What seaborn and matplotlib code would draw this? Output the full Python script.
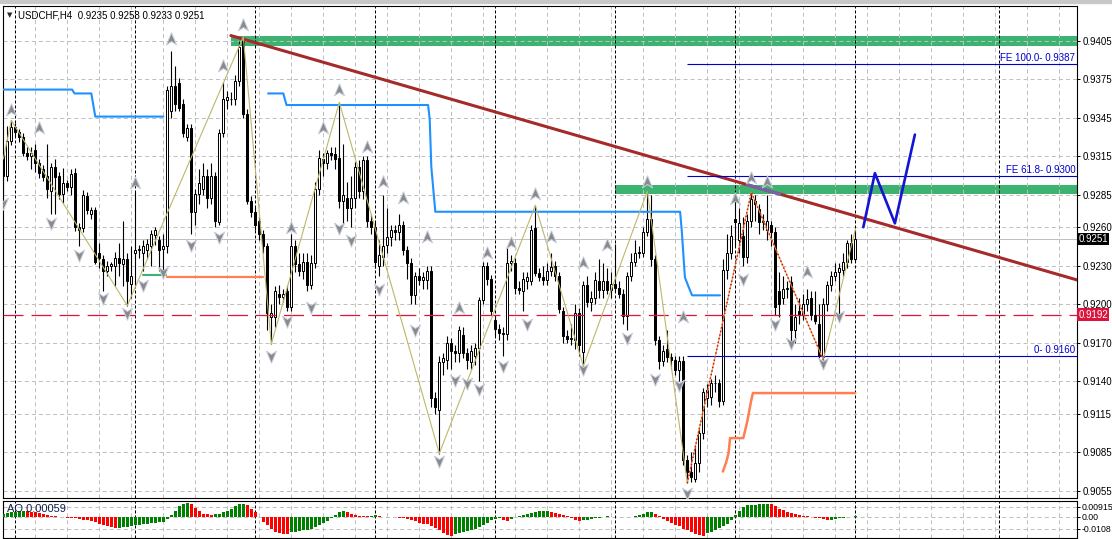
import matplotlib
matplotlib.use('Agg')
import numpy as np
import matplotlib.pyplot as plt
import seaborn as sns
from matplotlib.path import Path
from matplotlib.patches import Rectangle
from matplotlib.transforms import blended_transform_factory

sns.set_style('white')
plt.rcParams['font.family'] = ['Liberation Sans', 'DejaVu Sans']
plt.rcParams['lines.scale_dashes'] = False

# -------------------------
# data (USDCHF H4)
# -------------------------
opens = [
    .9318, .9300, .9327, .9338, .9334, .9330, .9318, .9315, .9320, .9310,
    .9305, .9300, .9288, .9307, .9300, .9286, .9294, .9291, .9302, .9260,
    .9259, .9284, .9270, .9273, .9240, .9235, .9226, .9230, .9230, .9236,
    .9231, .9235, .9216, .9240, .9242, .9240, .9242, .9245, .9254, .9250,
    .9243, .9245, .9350, .9370, .9372, .9356, .9330, .9337, .9272, .9286,
    .9290, .9300, .9283, .9300, .9264, .9333, .9359, .9360, .9360, .9374,
    .9405, .9348, .9280, .9272, .9265, .9255, .9245, .9190, .9190, .9208,
    .9206, .9210, .9198, .9245, .9231, .9226, .9233, .9215, .9232, .9290,
    .9313, .9310, .9318, .9317, .9314, .9280, .9283, .9275, .9283, .9307,
    .9288, .9312, .9265, .9260, .9230, .9237, .9246, .9252, .9258, .9256,
    .9262, .9242, .9232, .9207, .9222, .9219, .9219, .9226, .9127, .9118,
    .9155, .9157, .9170, .9164, .9162, .9176, .9162, .9155, .9160, .9166,
    .9203, .9230, .9220, .9188, .9181, .9178, .9177, .9232, .9232, .9213,
    .9210, .9218, .9218, .9259, .9224, .9221, .9219, .9226, .9230, .9222,
    .9195, .9175, .9173, .9172, .9193, .9163, .9215, .9202, .9205, .9218,
    .9211, .9218, .9211, .9216, .9213, .9208, .9191, .9222, .9233, .9240,
    .9240, .9256, .9266, .9235, .9172, .9156, .9165, .9159, .9157, .9149,
    .9156, .9079, .9070, .9064, .9077, .9100, .9127, .9128, .9139, .9139,
    .9125, .9227, .9240, .9266, .9250, .9253, .9237, .9265, .9280, .9274,
    .9264, .9258, .9262, .9256, .9210, .9205, .9212, .9217, .9180, .9195,
    .9192, .9200, .9205, .9192, .9185, .9159, .9200, .9215, .9222, .9225,
    .9227, .9233, .9248, .9235]
highs = [
    .9322, .9339, .9343, .9341, .9336, .9333, .9322, .9322, .9325, .9313,
    .9308, .9325, .9310, .9313, .9303, .9306, .9297, .9305, .9306, .9263,
    .9289, .9287, .9276, .9276, .9248, .9238, .9234, .9233, .9241, .9248,
    .9265, .9240, .9245, .9287, .9246, .9250, .9251, .9258, .9260, .9253,
    .9255, .9370, .9397, .9385, .9376, .9360, .9340, .9340, .9290, .9305,
    .9310, .9305, .9310, .9303, .9336, .9373, .9366, .9365, .9378, .9405,
    .9408, .9352, .9284, .9276, .9268, .9258, .9248, .9200, .9214, .9215,
    .9212, .9215, .9255, .9250, .9240, .9240, .9240, .9238, .9295, .9320,
    .9318, .9320, .9322, .9322, .9357, .9325, .9295, .9300, .9311, .9312,
    .9315, .9315, .9270, .9264, .9250, .9285, .9275, .9262, .9262, .9270,
    .9265, .9245, .9236, .9225, .9228, .9225, .9230, .9230, .9132, .9160,
    .9162, .9175, .9174, .9168, .9183, .9182, .9166, .9168, .9170, .9206,
    .9233, .9233, .9223, .9192, .9185, .9182, .9245, .9238, .9236, .9218,
    .9225, .9225, .9262, .9277, .9228, .9230, .9232, .9240, .9234, .9225,
    .9198, .9180, .9185, .9200, .9197, .9218, .9222, .9210, .9225, .9235,
    .9232, .9228, .9225, .9247, .9218, .9212, .9225, .9240, .9250, .9245,
    .9260, .9288, .9285, .9238, .9175, .9168, .9180, .9162, .9160, .9160,
    .9160, .9083, .9085, .9090, .9103, .9135, .9138, .9142, .9145, .9142,
    .9235, .9255, .9262, .9280, .9275, .9268, .9270, .9287, .9285, .9278,
    .9270, .9285, .9265, .9260, .9225, .9222, .9218, .9222, .9200, .9205,
    .9208, .9212, .9210, .9210, .9200, .9205, .9218, .9226, .9232, .9232,
    .9240, .9250, .9255, .9258]
lows = [
    .9283, .9296, .9324, .9330, .9326, .9315, .9312, .9305, .9303, .9298,
    .9296, .9283, .9270, .9270, .9282, .9279, .9288, .9285, .9257, .9245,
    .9256, .9270, .9266, .9231, .9228, .9210, .9222, .9226, .9214, .9222,
    .9214, .9199, .9205, .9215, .9236, .9226, .9235, .9230, .9246, .9226,
    .9226, .9240, .9345, .9350, .9350, .9330, .9327, .9255, .9262, .9278,
    .9285, .9275, .9278, .9260, .9262, .9330, .9352, .9355, .9355, .9370,
    .9345, .9278, .9268, .9258, .9250, .9240, .9180, .9169, .9182, .9200,
    .9202, .9195, .9195, .9225, .9222, .9220, .9210, .9212, .9228, .9285,
    .9300, .9305, .9312, .9305, .9275, .9262, .9265, .9260, .9275, .9283,
    .9282, .9260, .9255, .9228, .9222, .9230, .9240, .9245, .9250, .9250,
    .9238, .9220, .9200, .9200, .9215, .9212, .9212, .9120, .9115, .9084,
    .9145, .9150, .9150, .9155, .9155, .9158, .9150, .9150, .9153, .9140,
    .9200, .9215, .9192, .9175, .9172, .9160, .9172, .9226, .9208, .9208,
    .9195, .9212, .9215, .9222, .9218, .9215, .9215, .9222, .9218, .9193,
    .9170, .9170, .9168, .9165, .9160, .9152, .9198, .9195, .9200, .9205,
    .9205, .9208, .9205, .9210, .9205, .9185, .9180, .9218, .9230, .9236,
    .9237, .9253, .9230, .9168, .9150, .9152, .9155, .9150, .9145, .9140,
    .9075, .9061, .9062, .9062, .9070, .9095, .9120, .9122, .9132, .9120,
    .9122, .9220, .9235, .9245, .9240, .9230, .9232, .9260, .9265, .9255,
    .9258, .9250, .9245, .9192, .9190, .9200, .9205, .9170, .9170, .9185,
    .9188, .9195, .9188, .9185, .9158, .9157, .9195, .9210, .9218, .9190,
    .9222, .9228, .9232, .9233]
closes = [
    .9300, .9327, .9338, .9334, .9330, .9318, .9315, .9318, .9310, .9302,
    .9299, .9290, .9307, .9299, .9286, .9294, .9291, .9301, .9260, .9258,
    .9285, .9273, .9273, .9233, .9236, .9226, .9230, .9231, .9236, .9232,
    .9235, .9218, .9222, .9242, .9243, .9245, .9247, .9255, .9258, .9242,
    .9245, .9367, .9370, .9356, .9353, .9333, .9337, .9272, .9286, .9294,
    .9300, .9283, .9300, .9265, .9333, .9360, .9361, .9360, .9374, .9400,
    .9348, .9280, .9272, .9262, .9255, .9245, .9193, .9193, .9210, .9206,
    .9208, .9198, .9245, .9231, .9226, .9233, .9215, .9232, .9290, .9314,
    .9310, .9318, .9316, .9313, .9280, .9285, .9275, .9283, .9307, .9288,
    .9312, .9265, .9260, .9233, .9238, .9245, .9252, .9258, .9256, .9262,
    .9242, .9232, .9207, .9222, .9219, .9221, .9226, .9127, .9120, .9155,
    .9158, .9170, .9164, .9162, .9180, .9162, .9157, .9164, .9166, .9203,
    .9230, .9220, .9195, .9181, .9178, .9177, .9232, .9234, .9213, .9211,
    .9220, .9221, .9258, .9224, .9221, .9219, .9226, .9229, .9222, .9196,
    .9175, .9173, .9174, .9193, .9168, .9215, .9202, .9205, .9219, .9211,
    .9218, .9211, .9216, .9213, .9208, .9191, .9222, .9233, .9240, .9241,
    .9256, .9266, .9235, .9172, .9156, .9164, .9159, .9157, .9149, .9156,
    .9079, .9070, .9066, .9077, .9100, .9132, .9133, .9139, .9139, .9125,
    .9227, .9240, .9253, .9264, .9263, .9237, .9265, .9282, .9278, .9264,
    .9265, .9265, .9256, .9198, .9200, .9212, .9213, .9180, .9190, .9192,
    .9200, .9204, .9192, .9187, .9160, .9200, .9215, .9222, .9225, .9228,
    .9233, .9248, .9235, .9251]

# Awesome Oscillator histogram
ao_values = [
    .00307, .00368, .00430, .00461, .00522, .00553, .00522, .00491, .00430, .00368,
    .00307, .00215, .00123, .00061, .00031, -.00031, -.00061, -.00092, -.00123, -.00184,
    -.00246, -.00307, -.00368, -.00491, -.00614, -.00737, -.00860, -.00952, -.01044, -.01013,
    -.00952, -.00890, -.00829, -.00768, -.00706, -.00645, -.00614, -.00583, -.00522, -.00491,
    -.00461, -.00154, .00215, .00553, .00982, .01167, .01289, .01167, .00829, .00522,
    .00307, .00246, .00215, .00246, .00307, .00430, .00553, .00768, .00982, .01167,
    .01197, .01044, .00768, .00461, -.00020, -.00430, -.00737, -.01105, -.01351, -.01504,
    -.01566, -.01596, -.01382, -.01351, -.01289, -.01228, -.01167, -.01075, -.00921, -.00768,
    -.00583, -.00368, -.00123, .00215, .00491, .00522, .00430, .00307, .00184, .00123,
    .00092, .00061, .00123, .00154, .00061, .00010, -.00045, -.00030, -.00010, -.00061,
    -.00092, -.00154, -.00276, -.00399, -.00522, -.00614, -.00675, -.00798, -.00982, -.01228,
    -.01474, -.01658, -.01750, -.01535, -.01443, -.01351, -.01259, -.01167, -.01075, -.00921,
    -.00737, -.00522, -.00307, -.00184, -.00092, -.00246, -.00368, -.00184, .00000, .00092,
    .00215, .00307, .00399, .00461, .00522, .00553, .00583, .00491, .00399, .00307,
    .00184, .00061, -.00092, -.00246, -.00338, -.00307, -.00246, -.00184, -.00123, -.00061,
    .00000, .00061, .00031, .00000, -.00015, -.00005, -.00031, .00000, .00061, .00154,
    .00307, .00461, .00491, .00307, .00061, -.00154, -.00399, -.00553, -.00737, -.00860,
    -.01075, -.01228, -.01382, -.01535, -.01627, -.01750, -.01474, -.01351, -.01167, -.01013,
    -.00798, -.00614, -.00246, .00154, .00522, .00860, .01044, .01075, .01105, .01136,
    .01167, .01197, .01167, .00952, .00768, .00614, .00461, .00338, .00246, .00154,
    .00092, .00061, .00000, -.00061, -.00123, -.00215, -.00276, -.00246, -.00184, -.00123,
    -.00061, -.00031, .00010, .00059]

price_ticks = [0.9405, 0.9375, 0.9345, 0.9315, 0.9285, 0.9260, 0.9230,
               0.9200, 0.9170, 0.9140, 0.9115, 0.9085, 0.9055]
ao_ticks = [0.00915, 0.0, -0.0108]
ao_tick_labels = ['0.00915', '0.00', '-0.0108']
week_bars = [3, 33, 63, 93, 123, 153, 183, 213, 249]

# indicator / object lines (bar index, price)
blue1_bars = [0, 17.2, 17.8, 22.0, 23.0, 40.0]
blue1_prices = [.9367, .9367, .9364, .9364, .9346, .9346]
blue2_bars = [66.2, 70.0, 70.8, 106.2, 106.6, 107.0, 108.0, 169.2, 169.6, 170.4, 171.4, 172.2, 179.2]
blue2_prices = [.9364, .9364, .9355, .9355, .9344, .9307, .9272, .9272, .9258, .9221, .9213, .9207, .9207]
green_bars = [35.0, 40.7]
green_prices = [.9223, .9223]
orange1_bars = [40.9, 64.9]
orange1_prices = [.9221, .9221]
orange2_bars = [179.9, 180.7, 181.3, 181.7, 185.0, 186.0, 186.9, 187.4, 213.0]
orange2_prices = [.9070, .9077, .9084, .9096, .9096, .9109, .9124, .9131, .9131]
trend_bars = [56.9, 268.4]
trend_prices = [.9409, .9219]
zigzag_bars = [0, 2, 31, 60, 67, 84, 109, 133, 145, 161, 171, 187, 205, 213]
zigzag_prices = [.9313, .9343, .9199, .9408, .9169, .9357, .9084, .9277, .9152, .9288, .9061, .9287, .9157, .9258]
dotted_bars = [171, 187, 205]
dotted_prices = [.9061, .9287, .9157]
proj_bars = [215.0, 217.9, 222.9, 227.9]
proj_prices = [.9260, .9302, .9263, .9332]
band1 = (56.9, .9401, .9409)
band2 = (152.9, .9286, .9293)
fe_start = 170.9
fe_levels = [.9387, .9300, .9160]
fe_labels = ['FE 100.0- 0.9387', 'FE 61.8- 0.9300', '0- 0.9160']
last_price = 0.9251
alert_price = 0.9192

up_bars = [2, 9, 33, 42, 55, 60, 72, 80, 84, 91, 95, 100, 106, 114, 121, 127, 133, 137, 145, 151, 161, 170, 183, 187, 191, 201]
up_prices = [.9351, .9337, .9294, .9406, .9385, .9417, .9259, .9337, .9367, .9322, .9295, .9283, .9252,
             .9197, .9240, .9248, .9286, .9252, .9232, .9246, .9295, .9190, .9282, .9298, .9295, .9225]
down_bars = [0, 12, 19, 25, 31, 35, 40, 47, 54, 67, 71, 77, 84, 87, 94, 103, 109, 113, 116, 119,
             125, 131, 145, 156, 163, 169, 171, 185, 193, 197, 205, 209]
down_prices = [.9279, .9263, .9238, .9205, .9193, .9215, .9225, .9246, .9252, .9160, .9187, .9198, .9259,
               .9250, .9212, .9180, .9078, .9141, .9139, .9134, .9152, .9185, .9150, .9174, .9142, .9137,
               .9053, .9220, .9185, .9170, .9154, .9191]

# -------------------------
# figure / axes in pixel layout
# -------------------------
W, H = 1112, 539
fig = plt.figure(figsize=(W / 100, H / 100), dpi=100)
fig.patch.set_facecolor('white')

def px_rect(x0, y0, x1, y1):
    return [x0 / W, 1 - y1 / H, (x1 - x0) / W, (y1 - y0) / H]

ax = fig.add_axes(px_rect(3, 6, 1077, 498))
ax2 = fig.add_axes(px_rect(3, 500.5, 1077, 538))
fig.patches.append(Rectangle((0, 1 - 3 / H), 1, 3 / H, transform=fig.transFigure,
                             color='#C8C8C8', zorder=0))

xmin, xmax = -0.075, 268.425
ax.set_xlim(xmin, xmax)
ax.set_ylim(0.90494, 0.94320)
ax2.set_xlim(xmin, xmax)
ax2.set_ylim(-0.0193, 0.0150)

grid_kw = dict(color='#C0C0C0', lw=0.72, dashes=(2.9, 2.2), zorder=1)
sep_kw = dict(color='black', lw=0.72, dashes=(2.2, 1.4), zorder=1.5)
for a, ticks in ((ax, price_ticks), (ax2, ao_ticks)):
    for p in ticks:
        a.axhline(p, **grid_kw)
    for b in range(0, 269, 8):
        a.axvline(b, **grid_kw)
    for b in week_bars:
        a.axvline(b, **sep_kw)

# green rectangles
ax.fill_between([band1[0], 272], band1[1], band1[2], color='#3CB371', lw=0, zorder=0.5)
ax.fill_between([band2[0], 272], band2[1], band2[2], color='#3CB371', lw=0, zorder=0.5)

# current price line
ax.axhline(last_price, color='#C0C0C0', lw=0.72, zorder=2)

# candles
bars = np.arange(len(closes))
o = np.array(opens); c = np.array(closes)
ax.vlines(bars, lows, highs, color='black', lw=0.8, zorder=3)
up = c >= o
ax.bar(bars[up], (c - o)[up], bottom=o[up], width=0.5, color='white',
       edgecolor='black', lw=0.72, zorder=3.5)
ax.bar(bars[~up], (o - c)[~up], bottom=c[~up], width=0.5, color='black',
       edgecolor='black', lw=0.72, zorder=3.5)

# indicator lines
line_kw = dict(ax=ax, sort=False, estimator=None)
sns.lineplot(x=blue1_bars, y=blue1_prices, color='#1E90FF', lw=1.5, zorder=4, **line_kw)
sns.lineplot(x=blue2_bars, y=blue2_prices, color='#1E90FF', lw=1.5, zorder=4, **line_kw)
sns.lineplot(x=green_bars, y=green_prices, color='#3CB371', lw=1.5, zorder=4, **line_kw)
sns.lineplot(x=orange1_bars, y=orange1_prices, color='#FF7F50', lw=1.6, zorder=4, **line_kw)
sns.lineplot(x=orange2_bars, y=orange2_prices, color='#FF7F50', lw=1.8, zorder=4, **line_kw)
sns.lineplot(x=trend_bars, y=trend_prices, color='#A52A2A', lw=2.2, zorder=4, **line_kw)
# part of the trend line inside the lower band shows purple
seg = np.linspace(186.1, 194.15, 10)
ax.plot(seg, np.interp(seg, trend_bars, trend_prices), color='#7B5FA8', lw=2.2, zorder=4.1)

# FE levels
for lvl, lab in zip(fe_levels, fe_labels):
    ax.hlines(lvl, fe_start, xmax, color='#0000CD', lw=0.8, zorder=4)
    ax.text(268.0, lvl + 0.00006, lab, ha='right', va='bottom', fontsize=7,
            color='#0000CD', zorder=6)

# alert line
ax.axhline(alert_price, color='#DC143C', lw=0.9, dashes=(14.4, 5.8), zorder=4)

# zigzag and projection
sns.lineplot(x=zigzag_bars, y=zigzag_prices, color='#BDB76B', lw=0.8, zorder=5, **line_kw)
sns.lineplot(x=dotted_bars, y=dotted_prices, color='#FF0000', lw=1.1, linestyle=':', zorder=5.5, **line_kw)
sns.lineplot(x=proj_bars, y=proj_prices, color='#1414D2', lw=1.9, zorder=5, **line_kw)

# fractal arrows
up_path = Path([(0, 1), (0.75, -0.8), (0, -0.3), (-0.75, -0.8), (0, 1)],
               [Path.MOVETO, Path.LINETO, Path.LINETO, Path.LINETO, Path.CLOSEPOLY])
dn_path = Path([(0, -1), (0.75, 0.8), (0, 0.3), (-0.75, 0.8), (0, -1)],
               [Path.MOVETO, Path.LINETO, Path.LINETO, Path.LINETO, Path.CLOSEPOLY])
sns.scatterplot(x=up_bars, y=up_prices, marker=up_path, s=95, color='#8A8A8A',
                edgecolor='#C8D0E0', linewidth=0.7, zorder=6, ax=ax)
sns.scatterplot(x=down_bars, y=down_prices, marker=dn_path, s=95, color='#8A8A8A',
                edgecolor='#C8D0E0', linewidth=0.7, zorder=6, ax=ax)

# AO histogram
ao = np.array(ao_values)
ao_colors = ['#008000'] + ['#008000' if ao[i] > ao[i - 1] else '#FF0000' for i in range(1, len(ao))]
ax2.bar(np.arange(len(ao)), ao, width=0.75, color=ao_colors, lw=0, zorder=3)

# axes styling
for a in (ax, ax2):
    a.set_xticks([])
    a.yaxis.tick_right()
    a.tick_params(axis='y', direction='out', length=2.5, width=0.72, pad=1.5,
                  labelsize=7, colors='black')
    for s in a.spines.values():
        s.set_color('black')
        s.set_linewidth(0.8)
    a.set_xlabel('')
    a.set_ylabel('')
ax.set_yticks(price_ticks)
ax.set_yticklabels([f'{p:.4f}' for p in price_ticks])
ax2.set_yticks(ao_ticks)
ax2.set_yticklabels(ao_tick_labels)
ax2.tick_params(axis='y', labelsize=6.3, pad=1.0)

# price boxes on the scale
trans = blended_transform_factory(ax.transAxes, ax.transData)
for p, fc in ((last_price, 'black'), (alert_price, '#DC143C')):
    ax.text(1.0012, p, f'{p:.4f}', transform=trans, ha='left', va='center', fontsize=7,
            color='white', clip_on=False, zorder=10,
            bbox=dict(boxstyle='square,pad=0.12', fc=fc, ec='none'))

# header texts
fig.text(7 / W, 1 - 15 / H, '\u25BC', fontsize=5, va='center', ha='left',
         family=['DejaVu Sans'])
fig.text(18 / W, 1 - 15 / H, 'USDCHF,H4  0.9235 0.9258 0.9233 0.9251', fontsize=7,
         va='center', ha='left', color='black')
fig.text(7 / W, 1 - 509.5 / H, 'AO 0.00059', fontsize=8, va='center', ha='left',
         color='#10204A')

fig.savefig('out.png', dpi=100)
